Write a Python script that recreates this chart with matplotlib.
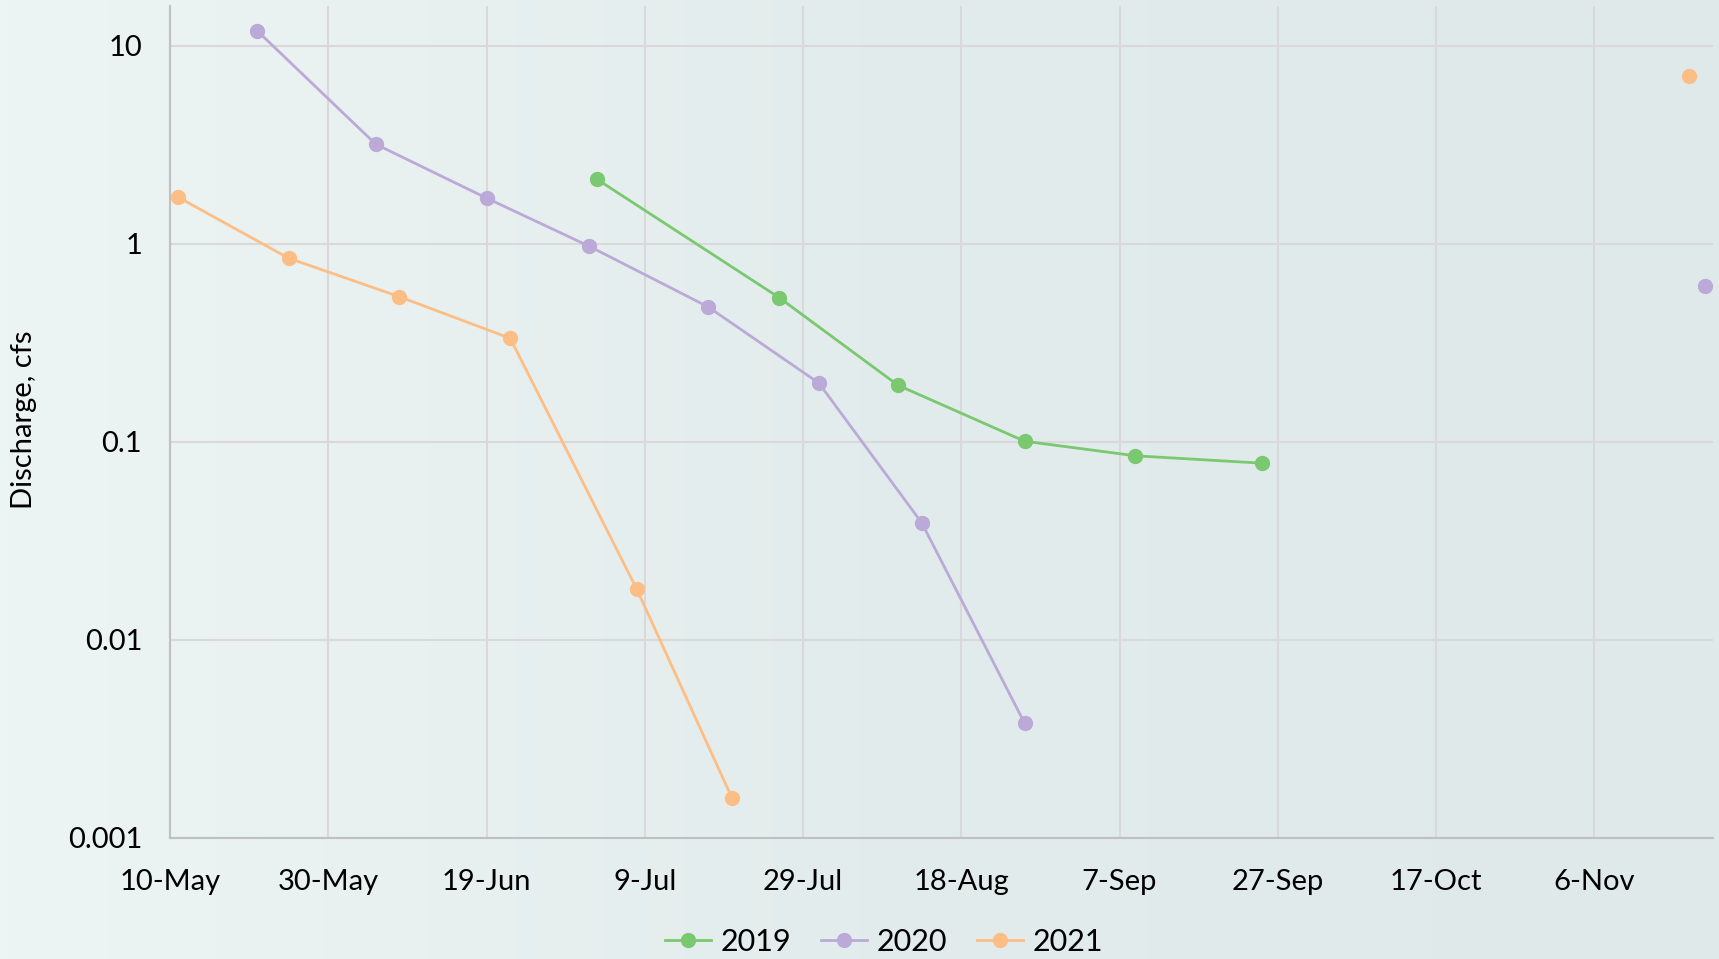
import numpy as np
import matplotlib
matplotlib.use("Agg")
import matplotlib.pyplot as plt
from matplotlib.ticker import FixedLocator, FixedFormatter, NullLocator
from datetime import date

# sampling dates (month-day) and discharge (cfs); nan marks a break in the record
dates_2019 = ["07-03", "07-26", "08-10", "08-26", "09-09", "09-25"]
q_2019 = [2.11, 0.534, 0.193, 0.1007, 0.085, 0.078]

dates_2020 = ["05-21", "06-05", "06-19", "07-02", "07-17", "07-31", "08-13",
              "08-26", "10-01", "11-20"]
q_2020 = [11.9, 3.18, 1.70, 0.97, 0.48, 0.198, 0.039, 0.0038, np.nan, 0.61]

dates_2021 = ["05-11", "05-25", "06-08", "06-22", "07-08", "07-20", "10-01",
              "11-18"]
q_2021 = [1.72, 0.845, 0.54, 0.333, 0.018, 0.0016, np.nan, 7.0]

tick_labels = ["10-May", "30-May", "19-Jun", "9-Jul", "29-Jul", "18-Aug",
               "7-Sep", "27-Sep", "17-Oct", "6-Nov"]
y_ticks = [0.001, 0.01, 0.1, 1, 10]
y_labels = ["0.001", "0.01", "0.1", "1", "10"]

START = date(2021, 5, 10)


def to_day(md):
    m, d = md.split("-")
    return (date(2021, int(m), int(d)) - START).days


plt.rcParams["font.family"] = ["Lato", "DejaVu Sans"]

fig = plt.figure(figsize=(17.19, 9.59), dpi=100)
fig.patch.set_facecolor("#e4eeef")

# soft backdrop, lighter on the left
bg = fig.add_axes([0, 0, 1, 1], zorder=-10)
grad = np.linspace(0, 1, 256)[None, :]
bg.imshow(grad, cmap=matplotlib.colors.LinearSegmentedColormap.from_list(
    "bg", ["#edf4f4", "#e3ecec", "#dfe9ea"]), aspect="auto",
    extent=[0, 1, 0, 1])
bg.axis("off")

ax = fig.add_axes([170 / 1719, 1 - 838 / 959, (1713 - 170) / 1719,
                   (838 - 6) / 959])
ax.patch.set_alpha(0)

series = [
    ("2019", dates_2019, q_2019, "#7ac870"),
    ("2020", dates_2020, q_2020, "#bba9d7"),
    ("2021", dates_2021, q_2021, "#fdbe86"),
]
for name, ds, qs, col in series:
    x = [to_day(d) for d in ds]
    ax.plot(x, qs, color=col, lw=2.0, marker="o", ms=10,
            label=name, zorder=3)

ax.set_yscale("log")
ax.set_ylim(0.001, 10 ** 1.2)
ax.set_xlim(0, 195)

ax.xaxis.set_major_locator(FixedLocator([20 * i for i in range(len(tick_labels))]))
ax.xaxis.set_major_formatter(FixedFormatter(tick_labels))
ax.yaxis.set_major_locator(FixedLocator(y_ticks))
ax.yaxis.set_major_formatter(FixedFormatter(y_labels))
ax.yaxis.set_minor_locator(NullLocator())

ax.grid(True, color="#dbd8d9", lw=1.5, zorder=0)
ax.tick_params(length=0, labelsize=21, pad=22)
ax.tick_params(axis="y", pad=20)
for s in ["top", "right"]:
    ax.spines[s].set_visible(False)
for s in ["left", "bottom"]:
    ax.spines[s].set_color("#c0c0c0")
    ax.spines[s].set_linewidth(1.5)

fig.text(24 / 1719, 1 - 420 / 959, "Discharge, cfs", rotation=90,
         ha="center", va="center", fontsize=21)

fig.legend(loc="center", bbox_to_anchor=(884 / 1719, 1 - 942 / 959), ncol=3,
           frameon=False, fontsize=22, handlelength=1.5, columnspacing=1.0,
           handletextpad=0.3)

fig.savefig("out.png", dpi=100, facecolor=fig.get_facecolor())
